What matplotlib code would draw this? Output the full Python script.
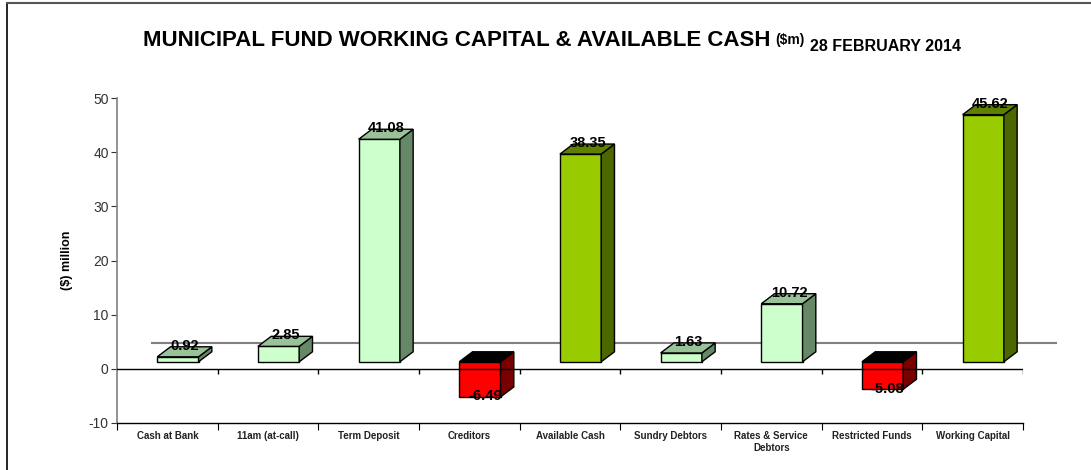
"""Municipal fund working capital & available cash — faux-3D Excel-style columns."""
import matplotlib
matplotlib.use("Agg")
import matplotlib.pyplot as plt
from matplotlib.patches import Polygon
from matplotlib.lines import Line2D

plt.rcParams["font.family"] = ["Liberation Sans", "DejaVu Sans"]
plt.rcParams["axes.unicode_minus"] = False

categories = ["Cash at Bank", "11am (at-call)", "Term Deposit", "Creditors",
              "Available Cash", "Sundry Debtors", "Rates & Service\nDebtors",
              "Restricted Funds", "Working Capital"]
values = [0.92, 2.85, 41.08, -6.49, 38.35, 1.63, 10.72, -5.08, 45.62]
kinds = ["asset", "asset", "asset", "liab", "total", "asset", "asset", "liab", "total"]

# front / side / top colours per kind
palette = {
    "asset": ("#CCFFCC", "#668866", "#99C299"),
    "total": ("#99CC00", "#4C6600", "#5F7F00"),
    "liab": ("#FF0000", "#7A0000", "#000000"),
}

BASE = 1.3      # Excel lifts the columns a little off the zero line
DX, DY = 0.132, 1.85   # depth offset (category units, data units)
X0, W = 0.40, 0.41     # front face position inside its category

W_PX, H_PX = 1091, 470
fig = plt.figure(figsize=(W_PX / 100, H_PX / 100), dpi=100)
ax = fig.add_axes([117 / W_PX, (H_PX - 423) / H_PX, 906 / W_PX, 325 / H_PX])
ax.set_xlim(0, len(categories))
ax.set_ylim(-10, 50)

# back edge of the floor
ax.plot([0.35, 9.33], [4.8, 4.8], color="#808080", lw=1.5, zorder=1, clip_on=False)

for i, (v, k) in enumerate(zip(values, kinds)):
    front, side, top = palette[k]
    xl, xr = i + X0, i + X0 + W
    y0, y1 = BASE, BASE + v
    yt = max(y0, y1)
    yb = min(y0, y1)
    ax.add_patch(Polygon([(xl, yb), (xr, yb), (xr, yt), (xl, yt)], closed=True,
                         facecolor=front, edgecolor="black", lw=1, zorder=3))
    ax.add_patch(Polygon([(xr, yb), (xr + DX, yb + DY), (xr + DX, yt + DY), (xr, yt)],
                         closed=True, facecolor=side, edgecolor="black", lw=1, zorder=3))
    ax.add_patch(Polygon([(xl, yt), (xr, yt), (xr + DX, yt + DY), (xl + DX, yt + DY)],
                         closed=True, facecolor=top, edgecolor="black", lw=1, zorder=3))
    if v >= 0:
        ax.text(i + 0.675, y1 + DY + 0.2, f"{v:.2f}", ha="center", va="center",
                fontsize=10.5, fontweight="bold", zorder=5)
    else:
        ax.text(i + 0.655, y1 + 0.1, f"{v:.2f}", ha="center", va="center",
                fontsize=10.5, fontweight="bold", zorder=5)

# zero line with its own ticks
ax.axhline(0, color="black", lw=1, zorder=4)
ax.vlines(range(1, len(categories) + 1), -0.95, 0, color="black", lw=1, zorder=4)

for s in ["top", "right"]:
    ax.spines[s].set_visible(False)
ax.spines["left"].set_color("#808080")
ax.spines["left"].set_linewidth(1.2)
ax.spines["bottom"].set_linewidth(1)

ax.set_yticks(range(-10, 51, 10))
ax.tick_params(axis="y", direction="out", length=4, labelsize=10, colors="#333333",
               pad=2)
ax.set_xticks(range(0, len(categories) + 1))
ax.set_xticklabels([])
ax.set_xticks([i + 0.5 for i in range(len(categories))], minor=True)
ax.set_xticklabels(categories, minor=True, fontsize=7, fontweight="bold",
                   color="#222222")
ax.tick_params(axis="x", which="major", direction="out", length=5)
ax.tick_params(axis="x", which="minor", length=0, pad=6)

fig.text(67 / W_PX, 1 - 260 / H_PX, "($) million", rotation=90, ha="center",
         va="center", fontsize=9, fontweight="bold")

# title in three pieces, chained left to right
r = fig.canvas.get_renderer()
t1 = fig.text(143 / W_PX, 1 - 46 / H_PX,
              "MUNICIPAL FUND WORKING CAPITAL & AVAILABLE CASH",
              fontsize=16, fontweight="bold", ha="left", va="baseline")
x = t1.get_window_extent(r).x1 / W_PX
t2 = fig.text(x + 5 / W_PX, 1 - 44 / H_PX, "($m)", fontsize=10, fontweight="bold",
              ha="left", va="baseline")
x = t2.get_window_extent(r).x1 / W_PX
fig.text(x + 5 / W_PX, 1 - 51 / H_PX, "28 FEBRUARY 2014", fontsize=11.5,
         fontweight="bold", ha="left", va="baseline")

# chart-area frame (left and top edges only are visible)
fig.add_artist(Line2D([7 / W_PX, 7 / W_PX], [0, 1 - 3 / H_PX], color="black", lw=1.2))
fig.add_artist(Line2D([7 / W_PX, 1], [1 - 3 / H_PX, 1 - 3 / H_PX], color="#555555", lw=1.5))

fig.savefig("out.png", dpi=100)
